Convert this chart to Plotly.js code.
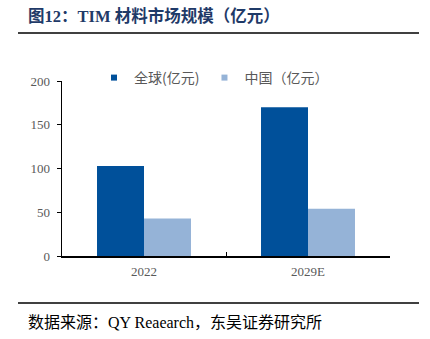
<!DOCTYPE html>
<html><head><meta charset="utf-8">
<script src="https://cdn.plot.ly/plotly-3.0.1.min.js"></script>
<style>html,body{margin:0;padding:0;background:#fff}#c{width:430px;height:339px}</style>
</head><body><div id="c"></div>
<script>
const categories = ['2022', '2029E'];
const globalValues = [103, 170];
const chinaValues = [43, 54];
const seriesNames = ['全球(亿元)', '中国（亿元）'];
const seriesColors = ['#00509A', '#95B3D7'];
const yTicks = [0, 50, 100, 150, 200];

const L = 62, R = 390, T = 81, B = 256;
const px = x => (x - L) / (R - L);
const py = y => (B - y) / (B - T);

const traces = [
  {type: 'bar', x: categories, y: globalValues, name: seriesNames[0], marker: {color: seriesColors[0]}, showlegend: false},
  {type: 'bar', x: categories, y: chinaValues, name: seriesNames[1], marker: {color: seriesColors[1]}, showlegend: false},
  {type: 'scatter', mode: 'markers', x: [categories[0]], y: [null], name: seriesNames[0],
    marker: {symbol: 'square', size: 6, color: seriesColors[0]}},
  {type: 'scatter', mode: 'markers', x: [categories[0]], y: [null], name: seriesNames[1],
    marker: {symbol: 'square', size: 6, color: seriesColors[1]}}
];
const serif = 'Liberation Serif, Times New Roman, serif';
const cjk = 'Noto Sans CJK SC, sans-serif';
const layout = {
  width: 430, height: 339,
  margin: {l: L, r: 430 - R, t: T, b: 339 - B, pad: 0},
  paper_bgcolor: '#fff', plot_bgcolor: '#fff',
  barmode: 'group', bargap: 0.427, bargroupgap: 0,
  showlegend: true,
  legend: {orientation: 'h', x: px(94), y: py(62), xanchor: 'left', yanchor: 'top',
    font: {family: cjk, size: 14, color: '#595959'}, itemwidth: 30, tracegroupgap: 0, bgcolor: 'rgba(0,0,0,0)'},
  xaxis: {type: 'category', showline: true, linecolor: '#000', linewidth: 1.5, ticks: 'inside', ticklen: 4,
    tickcolor: '#000', tickson: 'boundaries', showgrid: false, zeroline: false, ticklabelstandoff: 3,
    tickfont: {family: serif, size: 13, color: '#595959'}, automargin: false},
  yaxis: {range: [0, 200], tickvals: yTicks, showline: true, linecolor: '#000', linewidth: 1.5, ticks: 'outside',
    ticklen: 4, tickcolor: '#000', showgrid: false, zeroline: false, ticklabelstandoff: 4,
    tickfont: {family: serif, size: 13, color: '#595959'}, automargin: false},
  shapes: [
    {type: 'line', xref: 'paper', yref: 'paper', x0: px(18), x1: px(419), y0: py(33), y1: py(33), line: {color: '#000', width: 1.5}},
    {type: 'line', xref: 'paper', yref: 'paper', x0: px(18), x1: px(419), y0: py(303), y1: py(303), line: {color: '#000', width: 1.5}}
  ],
  annotations: [
    {xref: 'paper', yref: 'paper', x: px(26), y: py(16), xanchor: 'left', yanchor: 'middle', showarrow: false,
      text: '<b>图12：TIM 材料市场规模（亿元）</b>', font: {family: 'Liberation Serif, Noto Sans CJK SC, serif', size: 16.5, color: '#1F3A68'}},
    {xref: 'paper', yref: 'paper', x: px(26), y: py(322), xanchor: 'left', yanchor: 'middle', showarrow: false,
      text: '数据来源：QY Reaearch，东吴证券研究所', font: {family: 'Liberation Serif, Noto Sans CJK SC, serif', size: 16, color: '#000'}}
  ]
};
Plotly.newPlot('c', traces, layout, {staticPlot: true});
</script></body></html>
